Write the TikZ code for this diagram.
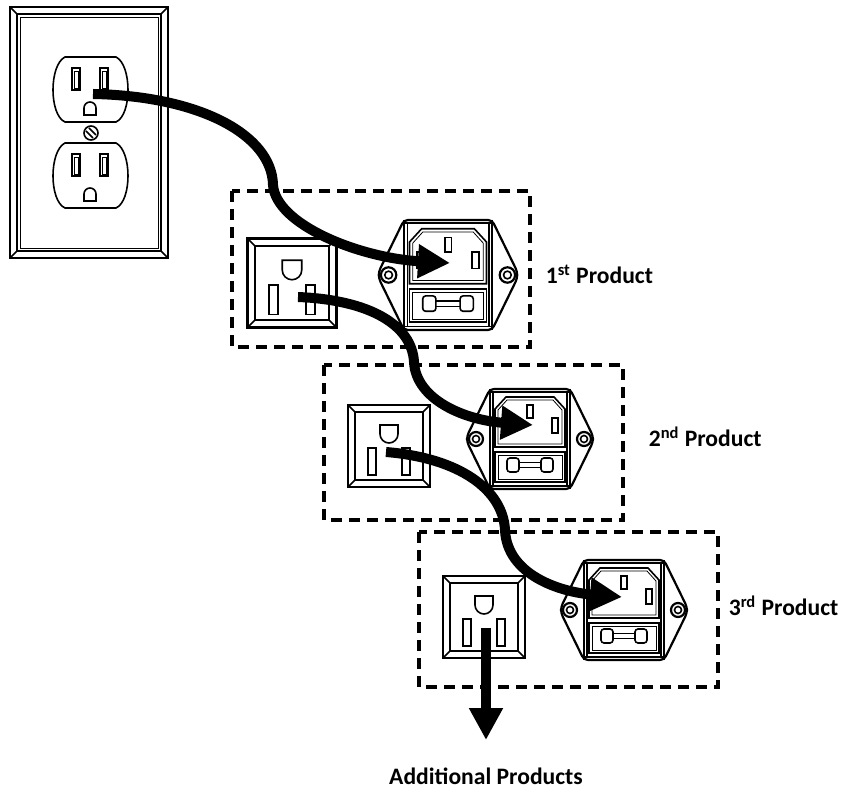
\documentclass[tikz,border=0pt]{standalone}
\usepackage{fontspec}
\setmainfont{Carlito}
\usepackage{tikz}
\usetikzlibrary{arrows.meta}
\usetikzlibrary{calc}
\tikzset{
every picture/.style={line width=0.8pt, x=0.5pt, y=-0.5pt},
%%%%%%%%%%  Line styles
cable/.style={line width=5pt, -{Triangle[length=16pt,width=16pt]}},
productbox/.style={line width=1.6pt, dash pattern=on 5.5pt off 3.5pt},
heavy/.style={line width=1.1pt},
%%%%%%%%%%  Text
prodlabel/.style={inner sep=0pt, font=\fontsize{11.8}{14}\selectfont\bfseries},
%%%%%%%%%%  Wall receptacle (one of the two)
receptacle/.pic={
  \draw (-25,-33) -- (26,-33) .. controls (42,-25) and (42,25) .. (26,32)
    -- (-25,32) .. controls (-41,25) and (-41,-25) .. (-25,-33) -- cycle;
  \foreach \s in {-14,14} {
    \draw (\s-4,-22) rectangle (\s+4,0);
    \draw[thin] (\s-2,-19) rectangle (\s+2,-2);
  }
  \draw (-6,25) -- (-6,18) arc[start angle=180,end angle=360,radius=6] -- (6,25) -- cycle;
},
%%%%%%%%%%  Square socket on the back of a product
nemasocket/.pic={
  \draw[heavy] (-41,-41) rectangle (41,41);
  \draw (-34,-34) rectangle (34,34);
  \draw (-41,-41) -- (-34,-34) (41,-41) -- (34,-34)
        (-41,41) -- (-34,34) (41,41) -- (34,34);
  %% ground hole
  \draw (-9,-21) -- (9,-21) -- (9,-12) arc[start angle=0,end angle=180,radius=9] -- cycle;
  %% blades
  \draw (-21,2) rectangle (-13,29);
  \draw (13,2) rectangle (21,29);
},
%%%%%%%%%%  Inlet with fuse drawer
iecinlet/.pic={
  \draw[heavy, rounded corners=2] (-40,-50) -- (40,-50) -- (63,-3) -- (63,3) -- (40,50)
    -- (-40,50) -- (-63,3) -- (-63,-3) -- cycle;
  \draw (-40,-50) -- (-40,50) (40,-50) -- (40,50);
  \draw (-37,-47) -- (-37,47) (37,-47) -- (37,47);
  \draw (-40,-47) -- (40,-47) (-40,47) -- (40,47);
  %% the face
  \draw (-35,8) -- (-35,-30) -- (-24,-42) -- (24,-42) -- (35,-30) -- (35,8) -- cycle;
  \draw[thin] (-32,5) -- (-32,-29) -- (-23,-39) -- (23,-39) -- (32,-29) -- (32,5) -- cycle;
  %% pins
  \draw (-3,-34) rectangle (3,-21);
  \draw (22,-21) rectangle (28,-6);
  \draw (-28,-21) rectangle (-22,-6);
  %% fuse drawer
  \draw (-35,13) rectangle (35,43);
  \draw[thin] (-32,16) rectangle (32,40);
  \draw[rounded corners=1.5] (-23,19) rectangle (-11,33);
  \draw[rounded corners=1.5] (11,19) rectangle (23,33);
  \draw (-11,23.5) -- (11,23.5) (-11,28.5) -- (11,28.5);
  %% screws
  \foreach \s in {-54,54} {
    \draw[heavy] (\s,0) circle (7);
    \draw (\s,0) circle (3.5);
  }
}
}

\begin{document}
\begin{tikzpicture}
\useasboundingbox (0,0) rectangle (846,790);
%% wall plate
\draw[heavy] (10,7) rectangle (168,258);
\draw (17,14) rectangle (161,251);
\draw[thin] (20,17) rectangle (158,248);
\draw (10,7) -- (17,14) (168,7) -- (161,14) (10,258) -- (17,251) (168,258) -- (161,251);
\pic at (90,90) {receptacle};
\pic at (90,176) {receptacle};
%% screw between the receptacles
\draw (91,133) circle (7);
\draw (86,131) -- (93,138) (89,128) -- (96,135);
%%%%%%%%%%%%%%%%%%%%%%%%%%%%%%%%%%%%%%%%%%%%%%%%%%%%
%% 1st product
\draw[productbox] (232,191) rectangle (530,347);
\pic[scale=1.085] at (292,283) {nemasocket};
\pic[scale=1.1] at (448,275) {iecinlet};
\node[prodlabel, anchor=base west] (first) at (545,284) {1\textsuperscript{st} Product};
%%%%%%%%%%%%%%%%%%%%%%%%%%%%%%%%%%%%%%%%%%%%%%%%%%%%
%% 2nd product
\draw[productbox] (324,365) rectangle (623,520);
\pic at (389,446) {nemasocket};
\pic at (530,439) {iecinlet};
\node[prodlabel, anchor=base west] (second) at (648,447) {2\textsuperscript{nd} Product};
%%%%%%%%%%%%%%%%%%%%%%%%%%%%%%%%%%%%%%%%%%%%%%%%%%%%
%% 3rd product
\draw[productbox] (419,532) rectangle (718,687);
\pic at (484,617) {nemasocket};
\pic at (624,610) {iecinlet};
\node[prodlabel, anchor=base west] (third) at (728,616) {3\textsuperscript{rd} Product};
%%%%%%%%%%%%%%%%%%%%%%%%%%%%%%%%%%%%%%%%%%%%%%%%%%%%
%% plug ends of the cords
\coordinate (wallplug) at (93,94);
\coordinate (inletA) at (450,263);
\coordinate (socketA) at (298,297);
\coordinate (inletB) at (533,425);
\coordinate (socketB) at (386,452);
\coordinate (inletC) at (622,597);
\coordinate (socketC) at (486,628);
\coordinate (onward) at (486,740);
\node[prodlabel, anchor=base] (more) at (486,784) {Additional Products};
%% the cords
\draw[cable] (wallplug) .. controls (200,96) and (272,135) .. (273,185)
	.. controls (276,225) and (360,258) .. (inletA);
\draw[cable] (socketA) .. controls (370,300) and (412,325) .. (414,362)
	.. controls (416,400) and (465,420) .. (inletB);
\draw[cable] (socketB) .. controls (460,458) and (503,490) .. (505,530)
	.. controls (507,575) and (560,592) .. (inletC);
\draw[cable] (socketC) -- (onward);
\end{tikzpicture}
\end{document}
